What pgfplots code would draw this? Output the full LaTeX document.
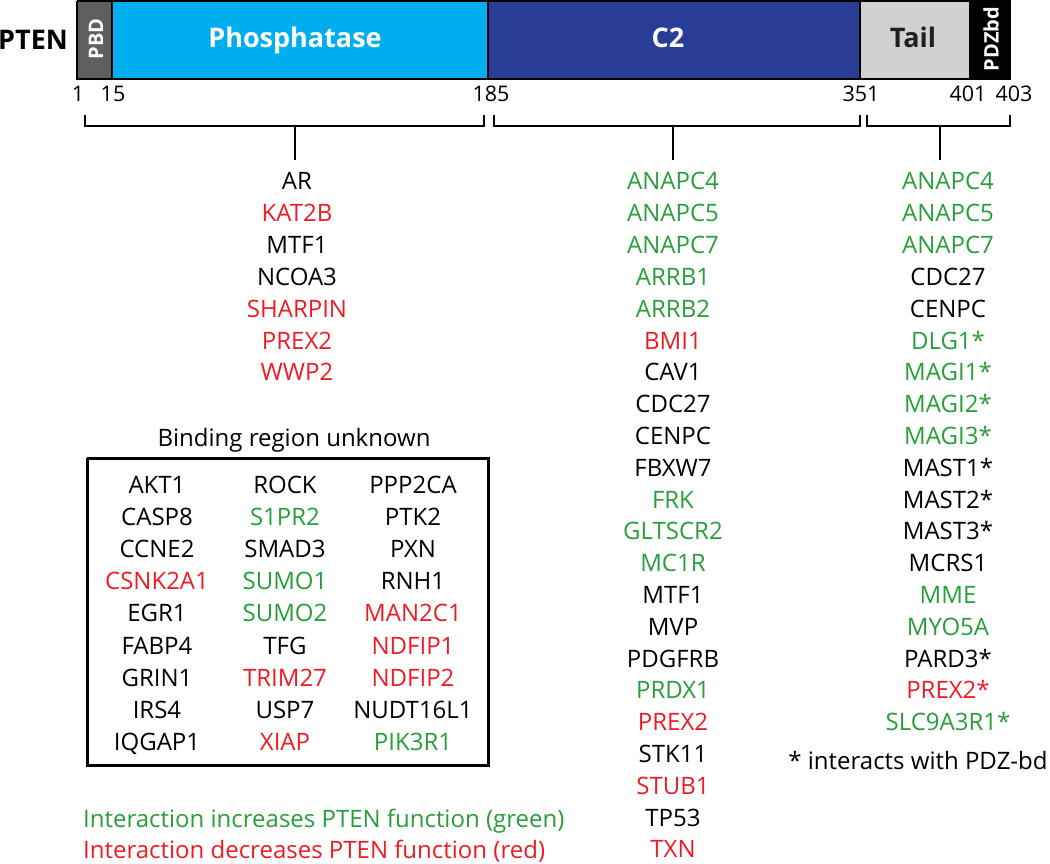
\documentclass[border=0pt]{standalone}
\usepackage{pgfplots}
\pgfplotsset{compat=1.18}
\usepackage{fontspec}
\setmainfont{Open Sans}
\definecolor{grn}{RGB}{40,158,58}
\definecolor{rd}{RGB}{237,28,36}
\definecolor{pbd}{RGB}{95,95,95}
\definecolor{phos}{RGB}{0,174,239}
\definecolor{ctwo}{RGB}{41,60,150}
\definecolor{tail}{RGB}{209,209,209}
\definecolor{dk}{RGB}{35,31,32}
\newcommand\lst{\fontsize{24bp}{27bp}\selectfont}
\newcommand\num{\fontsize{21.5bp}{24bp}\selectfont}
\newcommand\LI[4]{\node[anchor=base,font=\lst,text=#3,inner sep=0pt] at (axis cs:#1,{181.5+31.8*#2+8.5}) {#4};}
\newcommand\BI[4]{\node[anchor=base,font=\lst,text=#3,inner sep=0pt] at (axis cs:#1,{485+32.1*#2+8.5}) {#4};}
\begin{document}
\begin{tikzpicture}
\path[use as bounding box] (0,0) rectangle (1050bp,864bp);
\begin{axis}[width=1050bp, height=864bp, scale only axis, at={(0,0)}, anchor=south west,
  xmin=0, xmax=1050, ymin=0, ymax=864, y dir=reverse, hide axis, clip=false]
% domain bar
\addplot[fill=pbd, draw=black, line width=1.5bp, mark=none] coordinates {(77,1)(112,1)(112,79)(77,79)(77,1)};
\addplot[fill=phos, draw=black, line width=1.5bp, mark=none] coordinates {(112,1)(488,1)(488,79)(112,79)(112,1)};
\addplot[fill=ctwo, draw=black, line width=1.5bp, mark=none] coordinates {(488,1)(860,1)(860,79)(488,79)(488,1)};
\addplot[fill=tail, draw=black, line width=1.5bp, mark=none] coordinates {(860,1)(970,1)(970,79)(860,79)(860,1)};
\addplot[fill=black, draw=black, line width=1.5bp, mark=none] coordinates {(970,1)(1010,1)(1010,79)(970,79)(970,1)};
% brackets
\addplot[black, line width=2.5bp, mark=none] coordinates {(85,115)(85,126)(484,126)(484,115)};
\addplot[black, line width=2.5bp, mark=none] coordinates {(295,126)(295,160)};
\addplot[black, line width=2.5bp, mark=none] coordinates {(494,115)(494,126)(860,126)(860,115)};
\addplot[black, line width=2.5bp, mark=none] coordinates {(673,126)(673,160)};
\addplot[black, line width=2.5bp, mark=none] coordinates {(867,115)(867,126)(1010,126)(1010,115)};
\addplot[black, line width=2.5bp, mark=none] coordinates {(940,126)(940,160)};
% box
\addplot[black, line width=3bp, mark=none] coordinates {(87,458)(488,458)(488,765)(87,765)(87,458)};
% bar labels
\node[font=\fontsize{27bp}{30bp}\bfseries\selectfont, anchor=base, inner sep=0pt] at (axis cs:33,50) {PTEN};
\node[font=\fontsize{20bp}{22bp}\bfseries\selectfont, text=white, rotate=90, inner sep=0pt] at (axis cs:96,39) {PBD};
\node[font=\fontsize{27bp}{30bp}\bfseries\selectfont, text=white, anchor=base, inner sep=0pt] at (axis cs:295,48) {Phosphatase};
\node[font=\fontsize{27bp}{30bp}\bfseries\selectfont, text=white, anchor=base, inner sep=0pt] at (axis cs:668,48) {C2};
\node[font=\fontsize{27bp}{30bp}\bfseries\selectfont, text=dk, anchor=base, inner sep=0pt] at (axis cs:913,48) {Tail};
\node[font=\fontsize{20bp}{22bp}\bfseries\selectfont, text=white, rotate=90, inner sep=0pt] at (axis cs:991,39) {PDZbd};
% numbers
\node[font=\num, anchor=base, inner sep=0pt] at (axis cs:78,101.5) {1};
\node[font=\num, anchor=base, inner sep=0pt] at (axis cs:113,101.5) {15};
\node[font=\num, anchor=base, inner sep=0pt] at (axis cs:491,101.5) {185};
\node[font=\num, anchor=base, inner sep=0pt] at (axis cs:861,101.5) {351};
\node[font=\num, anchor=base, inner sep=0pt] at (axis cs:968,101.5) {401};
\node[font=\num, anchor=base, inner sep=0pt] at (axis cs:1014,101.5) {403};
% phosphatase list
\LI{297}{0}{black}{AR}
\LI{297}{1}{rd}{KAT2B}
\LI{297}{2}{black}{MTF1}
\LI{297}{3}{black}{NCOA3}
\LI{297}{4}{rd}{SHARPIN}
\LI{297}{5}{rd}{PREX2}
\LI{297}{6}{rd}{WWP2}
% C2 list
\LI{673}{0}{grn}{ANAPC4}
\LI{673}{1}{grn}{ANAPC5}
\LI{673}{2}{grn}{ANAPC7}
\LI{673}{3}{grn}{ARRB1}
\LI{673}{4}{grn}{ARRB2}
\LI{673}{5}{rd}{BMI1}
\LI{673}{6}{black}{CAV1}
\LI{673}{7}{black}{CDC27}
\LI{673}{8}{black}{CENPC}
\LI{673}{9}{black}{FBXW7}
\LI{673}{10}{grn}{FRK}
\LI{673}{11}{grn}{GLTSCR2}
\LI{673}{12}{grn}{MC1R}
\LI{673}{13}{black}{MTF1}
\LI{673}{14}{black}{MVP}
\LI{673}{15}{black}{PDGFRB}
\LI{673}{16}{grn}{PRDX1}
\LI{673}{17}{rd}{PREX2}
\LI{673}{18}{black}{STK11}
\LI{673}{19}{rd}{STUB1}
\LI{673}{20}{black}{TP53}
\LI{673}{21}{rd}{TXN}
% tail list
\LI{948}{0}{grn}{ANAPC4}
\LI{948}{1}{grn}{ANAPC5}
\LI{948}{2}{grn}{ANAPC7}
\LI{948}{3}{black}{CDC27}
\LI{948}{4}{black}{CENPC}
\LI{948}{5}{grn}{DLG1*}
\LI{948}{6}{grn}{MAGI1*}
\LI{948}{7}{grn}{MAGI2*}
\LI{948}{8}{grn}{MAGI3*}
\LI{948}{9}{black}{MAST1*}
\LI{948}{10}{black}{MAST2*}
\LI{948}{11}{black}{MAST3*}
\LI{948}{12}{black}{MCRS1}
\LI{948}{13}{grn}{MME}
\LI{948}{14}{grn}{MYO5A}
\LI{948}{15}{black}{PARD3*}
\LI{948}{16}{rd}{PREX2*}
\LI{948}{17}{grn}{SLC9A3R1*}
\node[anchor=base, font=\lst, inner sep=0pt] at (axis cs:918,769) {* interacts with PDZ-bd};
% binding region unknown
\node[anchor=base, font=\lst, inner sep=0pt] at (axis cs:294,446.5) {Binding region unknown};
\BI{157}{0}{black}{AKT1}
\BI{157}{1}{black}{CASP8}
\BI{157}{2}{black}{CCNE2}
\BI{157}{3}{rd}{CSNK2A1}
\BI{157}{4}{black}{EGR1}
\BI{157}{5}{black}{FABP4}
\BI{157}{6}{black}{GRIN1}
\BI{157}{7}{black}{IRS4}
\BI{157}{8}{black}{IQGAP1}
\BI{285}{0}{black}{ROCK}
\BI{285}{1}{grn}{S1PR2}
\BI{285}{2}{black}{SMAD3}
\BI{285}{3}{grn}{SUMO1}
\BI{285}{4}{grn}{SUMO2}
\BI{285}{5}{black}{TFG}
\BI{285}{6}{rd}{TRIM27}
\BI{285}{7}{black}{USP7}
\BI{285}{8}{rd}{XIAP}
\BI{413}{0}{black}{PPP2CA}
\BI{413}{1}{black}{PTK2}
\BI{413}{2}{black}{PXN}
\BI{413}{3}{black}{RNH1}
\BI{413}{4}{rd}{MAN2C1}
\BI{413}{5}{rd}{NDFIP1}
\BI{413}{6}{rd}{NDFIP2}
\BI{413}{7}{black}{NUDT16L1}
\BI{413}{8}{grn}{PIK3R1}
% legend
\node[anchor=base west, font=\lst, text=grn, inner sep=0pt] at (axis cs:83,827.5) {Interaction increases PTEN function (green)};
\node[anchor=base west, font=\lst, text=rd, inner sep=0pt] at (axis cs:83,858) {Interaction decreases PTEN function (red)};
\end{axis}
\end{tikzpicture}
\end{document}
